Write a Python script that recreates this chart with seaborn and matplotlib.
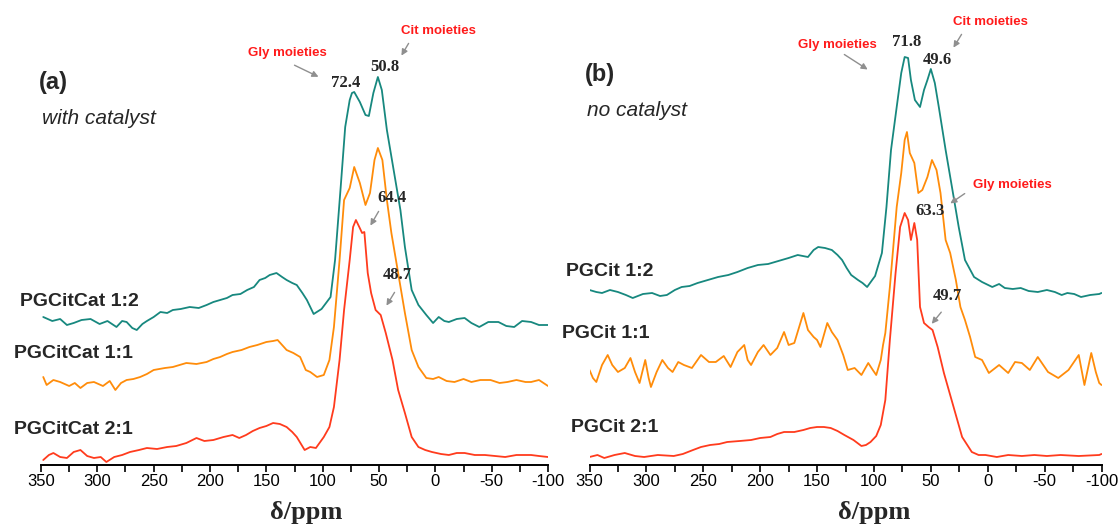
import numpy as np
import pandas as pd
import matplotlib
matplotlib.use("Agg")
import matplotlib.pyplot as plt
import seaborn as sns
from matplotlib.ticker import MultipleLocator

# ---------------- data (ppm, height above baseline axis, arbitrary units) ----------------
a_teal_ppm = [348, 340, 333, 327, 321, 314, 306, 298, 291, 283, 278, 274, 269, 265, 260, 256, 250, 244, 238, 233, 226, 218, 210, 203, 197, 191, 185, 180, 173, 167, 161, 156, 151, 147, 141, 136, 132, 127, 123, 118, 114, 108, 101, 95, 93, 89, 84, 80, 76, 74, 72, 67, 62, 59, 55, 51, 47.5, 43, 37, 31, 27, 21, 15, 8, 2, -3, -8, -12, -19, -26, -32, -39, -47, -56, -63, -70, -77, -85, -92, -100]
a_teal_int = [148, 144, 146, 140, 142, 145, 146, 141, 144, 138, 144, 143, 137, 135, 141, 144, 148, 153, 152, 155, 156, 158, 157, 160, 163, 165, 167, 170, 171, 175, 178, 185, 187, 190, 192, 188, 185, 182, 180, 172, 165, 151, 156, 165, 168, 205, 278, 338, 365, 372, 373, 363, 350, 349, 372, 388, 375, 335, 295, 255, 218, 175, 160, 150, 142, 148, 144, 143, 146, 147, 142, 138, 143, 143, 139, 138, 144, 143, 140, 140]

a_orange_ppm = [348, 345, 339, 333, 325, 320, 315, 309, 303, 295, 289, 284, 279, 274, 268, 262, 256, 250, 240, 233, 227, 221, 212, 203, 197, 191, 185, 180, 172, 165, 158, 150, 144, 140, 136, 132, 126, 120, 115, 111, 105, 99, 94, 90, 85, 81, 76, 72, 67, 62, 58, 54, 51, 47, 43, 39, 33, 27, 21, 15, 8, 2, -3, -10, -17, -25, -32, -40, -49, -57, -64, -72, -80, -85, -92, -100]
a_orange_int = [88, 80, 85, 83, 79, 82, 77, 82, 83, 79, 84, 75, 82, 85, 86, 88, 91, 95, 97, 98, 100, 102, 101, 103, 106, 108, 111, 113, 115, 118, 120, 123, 124, 125, 120, 115, 112, 108, 95, 93, 88, 90, 105, 138, 205, 265, 277, 298, 282, 260, 272, 305, 317, 305, 265, 232, 192, 152, 115, 98, 87, 86, 88, 84, 83, 86, 83, 85, 85, 82, 83, 85, 83, 83, 85, 79]

a_red_ppm = [348, 343, 339, 333, 327, 321, 315, 309, 303, 297, 292, 285, 278, 271, 263, 256, 247, 238, 230, 221, 212, 205, 197, 188, 180, 174, 168, 162, 156, 150, 144, 138, 132, 127, 123, 116, 111, 106, 99, 94, 90, 85, 81, 76, 73, 70.5, 67.5, 65, 63, 60, 57, 53, 48.5, 44, 38, 33, 27, 21, 15, 9, 3, -5, -12, -19, -26, -35, -44, -53, -62, -72, -85, -92, -100]
a_red_int = [5, 10, 12, 8, 7, 13, 15, 9, 7, 8, 3, 8, 10, 13, 15, 17, 16, 18, 19, 22, 27, 24, 25, 28, 30, 27, 30, 34, 37, 39, 42, 41, 38, 33, 28, 15, 18, 17, 28, 38, 58, 105, 155, 205, 238, 245, 238, 232, 233, 192, 172, 155, 150, 132, 105, 75, 52, 28, 18, 15, 13, 11, 10, 12, 12, 10, 10, 9, 8, 10, 10, 9, 8]

b_teal_ppm = [350, 344, 339, 332, 325, 318, 312, 303, 295, 288, 282, 275, 269, 262, 255, 246, 237, 228, 220, 211, 202, 193, 184, 175, 167, 158, 153, 149, 143, 137, 132, 128, 124, 120, 114, 110, 106, 99, 93, 89, 85, 80, 76, 73, 70, 67.5, 64, 59.5, 56, 53, 50, 46.5, 43, 37, 31, 25.5, 20, 12, 5, -4, -10, -15, -22, -29, -36, -44, -52, -59, -65, -70, -76, -82, -90, -98, -100]
b_teal_int = [175, 173, 172, 175, 173, 170, 167, 171, 172, 169, 170, 175, 178, 179, 182, 185, 188, 190, 193, 197, 200, 201, 204, 207, 210, 208, 215, 218, 217, 215, 210, 205, 197, 190, 185, 182, 178, 189, 212, 258, 315, 358, 392, 408, 407, 385, 365, 358, 375, 385, 396, 382, 358, 315, 275, 238, 205, 188, 183, 178, 181, 177, 176, 177, 174, 173, 175, 173, 170, 172, 171, 168, 170, 171, 172]

b_orange_ppm = [350, 347, 344, 339, 334, 330, 325, 319, 314, 310, 306, 301, 298, 296, 291, 286, 281, 277, 272, 267, 260, 252, 245, 239, 232, 226, 220, 214, 211, 208, 202, 197, 191, 185, 179, 175, 170, 166, 162, 158, 153, 150, 147, 141, 137, 132, 127, 123, 117, 111, 105, 101, 98, 94, 92, 90, 86, 80, 76, 73, 71, 68.5, 64.5, 61, 57.5, 53, 49, 45, 41.5, 37, 33, 28, 24, 20, 15.5, 11, 5, -1, -10, -18, -24, -30, -37, -44, -53, -62, -71, -80, -85, -91, -95, -98, -100]
b_orange_int = [95, 87, 83, 100, 110, 100, 93, 97, 107, 93, 82, 105, 87, 78, 93, 105, 97, 93, 103, 100, 97, 110, 103, 103, 109, 98, 113, 120, 105, 100, 113, 120, 110, 117, 133, 120, 122, 137, 152, 135, 128, 125, 118, 142, 133, 125, 110, 95, 97, 90, 102, 95, 90, 105, 120, 132, 178, 258, 292, 325, 333, 312, 302, 272, 275, 288, 305, 295, 272, 225, 212, 185, 158, 145, 128, 108, 105, 92, 100, 92, 103, 102, 95, 108, 93, 87, 95, 110, 80, 112, 93, 82, 80]

b_red_ppm = [350, 343, 337, 328, 319, 310, 302, 290, 276, 268, 259, 252, 244, 236, 229, 218, 208, 200, 191, 185, 179, 170, 162, 156, 150, 144, 138, 132, 126, 118, 111, 107, 103, 98, 94, 90, 86, 81, 77, 73, 70, 67.5, 64.5, 62, 59.5, 56, 52, 48.5, 44, 38.5, 31, 22.5, 14, 8, 2, -8, -18, -30, -41, -52, -64, -80, -98, -100]
b_red_int = [8, 10, 7, 10, 12, 9, 8, 10, 9, 11, 15, 18, 20, 21, 23, 24, 25, 27, 28, 31, 33, 33, 35, 37, 38, 38, 37, 34, 30, 25, 19, 20, 23, 29, 40, 65, 125, 192, 238, 252, 245, 225, 242, 225, 158, 142, 138, 135, 118, 92, 62, 28, 13, 10, 10, 8, 10, 9, 10, 9, 10, 9, 10, 11]

labels_a = ["PGCitCat 1:2", "PGCitCat 1:1", "PGCitCat 2:1"]
labels_b = ["PGCit 1:2", "PGCit 1:1", "PGCit 2:1"]
tick_values = [350, 300, 250, 200, 150, 100, 50, 0, -50, -100]
colors = ["#17887f", "#ff8c0a", "#ff3b1d"]

# ---------------- build long tables ----------------
def make_df(series, labels):
    rows = []
    for (ppm, inten), lab in zip(series, labels):
        for p, v in zip(ppm, inten):
            rows.append((p, v, lab))
    return pd.DataFrame(rows, columns=["ppm", "intensity", "sample"])

df_a = make_df([(a_teal_ppm, a_teal_int), (a_orange_ppm, a_orange_int), (a_red_ppm, a_red_int)], labels_a)
df_b = make_df([(b_teal_ppm, b_teal_int), (b_orange_ppm, b_orange_int), (b_red_ppm, b_red_int)], labels_b)

sns.set_style("white")
plt.rcParams["font.family"] = ["Liberation Sans", "DejaVu Sans"]

W, H = 1120, 529
fig = plt.figure(figsize=(W / 100, H / 100), dpi=100)

def fx(x):
    return x / W

def fy(y):
    return 1 - y / H

AX_BOTTOM = 465
ax_a = fig.add_axes([fx(41), fy(AX_BOTTOM), fx(548) - fx(41), fy(0) - fy(AX_BOTTOM)])
ax_b = fig.add_axes([fx(589.5), fy(AX_BOTTOM), fx(1101.5) - fx(589.5), fy(0) - fy(AX_BOTTOM)])

for ax, df, labs in [(ax_a, df_a, labels_a), (ax_b, df_b, labels_b)]:
    sns.lineplot(data=df, x="ppm", y="intensity", hue="sample", hue_order=labs,
                 palette=colors, linewidth=1.3, legend=False, ax=ax, estimator=None, sort=True)
    ax.set_xlim(350, -100)
    ax.set_ylim(0, AX_BOTTOM)
    ax.set_xticks(tick_values)
    ax.set_xticklabels([str(t) for t in tick_values], fontsize=12)
    ax.xaxis.set_minor_locator(MultipleLocator(25))
    ax.tick_params(axis="x", which="both", bottom=True, direction="out", length=5, width=1.2,
                   colors="black", pad=1.5)
    ax.set_yticks([])
    ax.set_ylabel("")
    ax.set_xlabel("")
    for s in ["left", "right", "top"]:
        ax.spines[s].set_visible(False)
    ax.spines["bottom"].set_linewidth(1.4)
    ax.spines["bottom"].set_color("black")
    ax.patch.set_alpha(0)

# x labels
serif = ["Liberation Serif", "DejaVu Serif"]
fig.text(fx(306), fy(512), "δ/ppm", family=serif, fontweight="bold", fontsize=19, ha="center", va="center")
fig.text(fx(874), fy(512), "δ/ppm", family=serif, fontweight="bold", fontsize=19, ha="center", va="center")

# panel labels
fig.text(fx(39), fy(83), "(a)", fontweight="bold", fontsize=17, ha="left", va="center")
fig.text(fx(42), fy(118), "with catalyst", fontstyle="italic", fontsize=15, ha="left", va="center")
fig.text(fx(585), fy(75), "(b)", fontweight="bold", fontsize=17, ha="left", va="center")
fig.text(fx(587), fy(110), "no catalyst", fontstyle="italic", fontsize=15, ha="left", va="center")

# series labels
for lab, xr, y in zip(labels_a, [139, 133, 133], [302, 354, 430]):
    fig.text(fx(xr), fy(y), lab, fontweight="bold", fontsize=14, ha="right", va="center")
for lab, xr, y in zip(labels_b, [653, 650, 658], [272, 333, 427]):
    fig.text(fx(xr), fy(y), lab, fontweight="bold", fontsize=14, ha="right", va="center")

# peak values
peaks = [("72.4", 346, 83), ("50.8", 385, 67), ("64.4", 392, 198), ("48.7", 397, 275),
         ("71.8", 907, 42), ("49.6", 937, 60), ("63.3", 930, 211), ("49.7", 947, 296)]
for t, x, y in peaks:
    fig.text(fx(x), fy(y), t, family=serif, fontweight="bold", fontsize=12, ha="center", va="center")

# moiety labels
moieties = [("Gly moieties", 287, 53), ("Cit moieties", 438, 31),
            ("Gly moieties", 837, 45), ("Cit moieties", 990, 22), ("Gly moieties", 1012, 185)]
for t, x, y in moieties:
    fig.text(fx(x), fy(y), t, color="#ff1a1a", fontweight="bold", fontsize=9.5, ha="center", va="center")

# arrows (start -> tip) in figure pixels
arrows = [((292, 64), (321, 78)), ((410, 41), (400, 58)), ((380, 209), (369, 228)), ((396, 290), (385, 308)),
          ((842, 53), (870, 71)), ((963, 32), (952, 50)), ((967, 192), (948, 205)), ((943, 310), (930, 326))]
for (x0, y0), (x1, y1) in arrows:
    fig.add_artist(matplotlib.patches.FancyArrowPatch(
        (fx(x0), fy(y0)), (fx(x1), fy(y1)), transform=fig.transFigure,
        arrowstyle="-|>", mutation_scale=9, color="#8f8f8f", lw=1.0))

fig.savefig("out.png", dpi=100)
